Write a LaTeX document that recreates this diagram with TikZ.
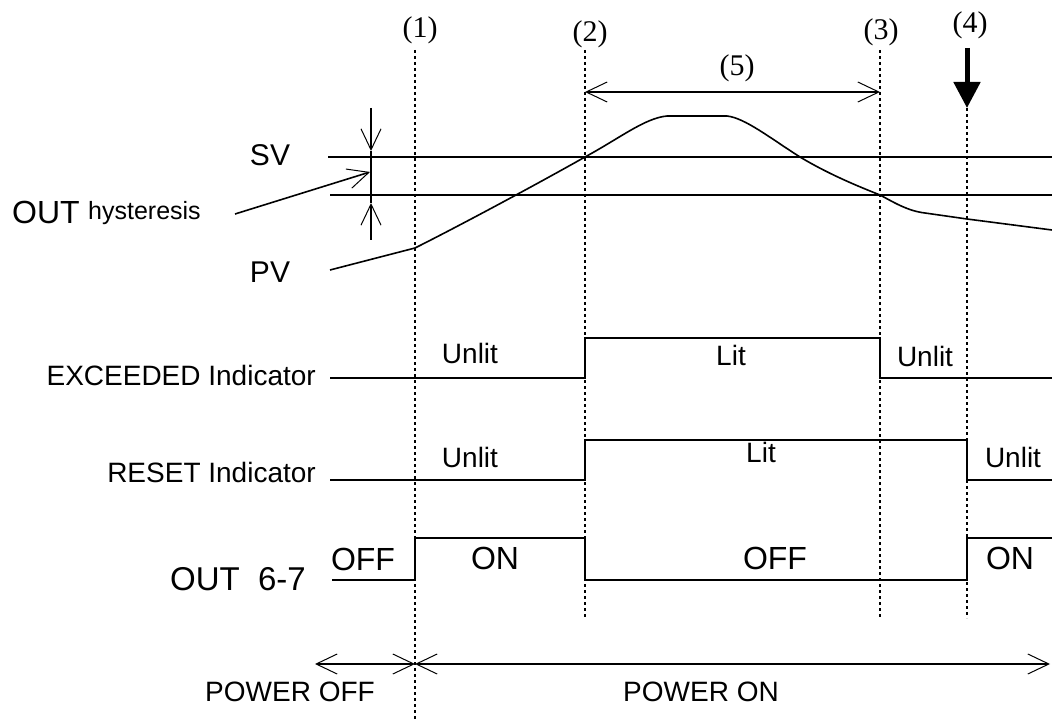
\documentclass[tikz,border=0pt]{standalone}
\usepackage{fontspec}
\setmainfont{Liberation Sans}
\newfontfamily\numfont{Liberation Serif}
\usetikzlibrary{arrows.meta}
\tikzset{
  sig/.style={line width=1.8pt},
  guide/.style={line width=1.6pt, dash pattern=on 3pt off 3pt},
  barbs/.style={line width=1.6pt, {Straight Barb[length=21pt,width=20pt,line width=1pt]}-{Straight Barb[length=21pt,width=20pt,line width=1pt]}},
  barbe/.style={line width=1.6pt, -{Straight Barb[length=21pt,width=20pt,line width=1pt]}},
  bigtxt/.style={font=\fontsize{32}{34}\selectfont, inner sep=0pt},
  midtxt/.style={font=\fontsize{28}{30}\selectfont, inner sep=0pt},
  numtxt/.style={font=\numfont\fontsize{30}{32}\selectfont, inner sep=0pt},
}
\begin{document}
\begin{tikzpicture}[x=1pt,y=-1pt]
\useasboundingbox (0,0) rectangle (1052,719);

% event labels
\node[numtxt] (l1) at (420,30) {(1)};
\node[numtxt] (l2) at (590,34) {(2)};
\node[numtxt] (l3) at (881,32) {(3)};
\node[numtxt] (l4) at (970,25) {(4)};
\node[numtxt] (l5) at (737,68) {(5)};

\coordinate (d1t) at (415,50);  \coordinate (d1b) at (415,719);
\coordinate (d2t) at (585,50);  \coordinate (d2b) at (585,618);
\coordinate (d3t) at (880,50);  \coordinate (d3b) at (880,618);
\coordinate (d4a) at (967,48);  \coordinate (d4t) at (967,108); \coordinate (d4b) at (967,618);

\draw[guide] (d1t) -- (d1b);
\draw[guide] (d2t) -- (d2b);
\draw[guide] (d3t) -- (d3b);
\draw[guide] (d4t) -- (d4b);
\draw[line width=5pt, -{Triangle[length=26pt,width=26pt]}] (d4a) -- (d4t);

% (5) span
\coordinate (s5a) at (585,92); \coordinate (s5b) at (880,92);
\draw[barbs] (s5a) -- (s5b);

% SV and hysteresis lines
\node[font=\fontsize{30}{32}\selectfont, inner sep=0pt] (sv) at (270,155) {SV};
\node[font=\fontsize{30}{32}\selectfont, inner sep=0pt] (pv) at (270,272) {PV};
\coordinate (sva) at (328,157); \coordinate (svb) at (1052,157);
\coordinate (hya) at (330,195); \coordinate (hyb) at (1052,195);
\draw[sig] (sva) -- (svb);
\draw[sig] (hya) -- (hyb);

\coordinate (ht) at (371,108); \coordinate (htt) at (371,151);
\coordinate (hb) at (371,240); \coordinate (hbt) at (371,203);
\draw[line width=1.6pt] (htt) -- (hbt);
\draw[barbe] (ht) -- (htt);
\draw[barbe] (hb) -- (hbt);

\node[bigtxt, anchor=base west] (outl) at (12,224) {OUT};
\node[font=\fontsize{25}{27}\selectfont, inner sep=0pt, anchor=base west] (hyl) at (88,220) {hysteresis};
\coordinate (hs) at (235,214); \coordinate (he) at (370,172);
\draw[barbe] (hs) -- (he);

% PV curve
\draw[line width=1.6pt] (330,270) -- (415,248)
  .. controls (455,228) and (530,188) .. (585,157)
  .. controls (620,138) and (645,118) .. (667,116)
  -- (727,116)
  .. controls (745,118) and (770,138) .. (800,157)
  .. controls (830,175) and (860,187) .. (880,195)
  .. controls (895,203) and (908,211) .. (925,213)
  -- (967,219) -- (1052,230);

% EXCEEDED indicator
\node[midtxt, anchor=east] (exl) at (316,375) {EXCEEDED Indicator};
\coordinate (e0) at (330,378);
\coordinate (e1) at (585,378); \coordinate (e2) at (585,338);
\coordinate (e3) at (880,338); \coordinate (e4) at (880,378);
\coordinate (e5) at (1052,378);
\draw[sig] (e0) -- (e1) -- (e2) -- (e3) -- (e4) -- (e5);
\node[midtxt] (eu1) at (470,353) {Unlit};
\node[midtxt] (el) at (731,355) {Lit};
\node[midtxt] (eu2) at (925,356) {Unlit};

% RESET indicator
\node[midtxt, anchor=east] (rsl) at (316,472) {RESET Indicator};
\coordinate (r0) at (330,480);
\coordinate (r1) at (585,480); \coordinate (r2) at (585,440);
\coordinate (r3) at (967,440); \coordinate (r4) at (967,480);
\coordinate (r5) at (1052,480);
\draw[sig] (r0) -- (r1) -- (r2) -- (r3) -- (r4) -- (r5);
\node[midtxt] (ru1) at (470,457) {Unlit};
\node[midtxt] (rl) at (761,452) {Lit};
\node[midtxt] (ru2) at (1013,457) {Unlit};

% OUT 6-7
\node[font=\fontsize{33}{35}\selectfont, inner sep=0pt, anchor=east] (o67) at (306,579) {OUT\ \ 6-7};
\coordinate (o0) at (332,580);
\coordinate (o1) at (415,580); \coordinate (o2) at (415,538);
\coordinate (o3) at (585,538); \coordinate (o4) at (585,580);
\coordinate (o5) at (967,580); \coordinate (o6) at (967,538);
\coordinate (o7) at (1052,538);
\draw[sig] (o0) -- (o1) -- (o2) -- (o3) -- (o4) -- (o5) -- (o6) -- (o7);
\node[bigtxt] (of1) at (363,559) {OFF};
\node[bigtxt] (on1) at (495,558) {ON};
\node[bigtxt] (of2) at (775,558) {OFF};
\node[bigtxt] (on2) at (1010,558) {ON};

% power
\coordinate (p0) at (315,664); \coordinate (p1) at (415,664); \coordinate (p2) at (1050,664);
\draw[barbs] (p0) -- (p1);
\draw[barbs] (p1) -- (p2);
\node[midtxt] (pof) at (290,692) {POWER OFF};
\node[midtxt] (pon) at (701,692) {POWER ON};
\end{tikzpicture}
\end{document}
